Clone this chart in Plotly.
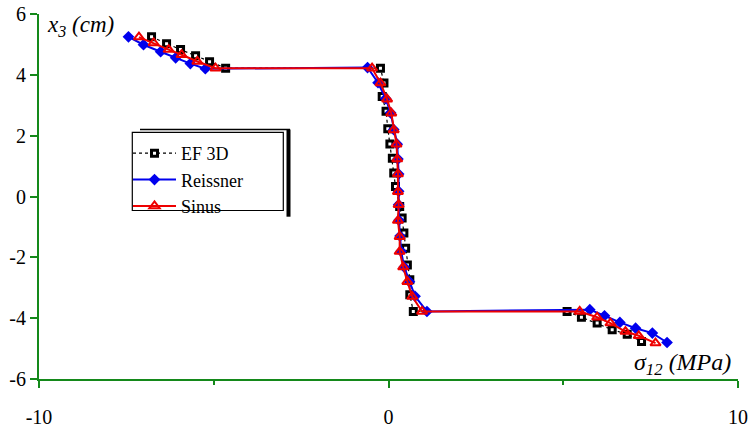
import plotly.graph_objects as go

# ---- data ----
ef3d_x = [-6.78, -6.35, -5.95, -5.52, -5.12, -4.66,
          -0.23, -0.13, -0.18, -0.07, -0.02, 0.04, 0.11, 0.15, 0.20, 0.32, 0.39,
          0.44, 0.49, 0.54, 0.61, 0.61, 0.71,
          5.11, 5.52, 5.97, 6.40, 6.83, 7.24]
ef3d_y = [5.25, 5.02, 4.83, 4.63, 4.43, 4.22,
          4.22, 3.73, 3.29, 2.80, 2.23, 1.73, 1.26, 0.77, 0.33, -0.33, -0.71,
          -1.20, -1.70, -2.25, -2.74, -3.23, -3.78,
          -3.78, -3.97, -4.16, -4.38, -4.53, -4.77]

reissner_x = [-7.44, -7.01, -6.52, -6.09, -5.67, -5.24,
              -0.60, -0.30, -0.08, 0.06, 0.15, 0.25, 0.27, 0.29, 0.29, 0.29, 0.30,
              0.33, 0.36, 0.45, 0.60, 0.76, 1.10,
              5.76, 6.18, 6.62, 7.07, 7.55, 7.97]
reissner_y = [5.25, 4.99, 4.76, 4.56, 4.37, 4.20,
              4.24, 3.74, 3.22, 2.75, 2.20, 1.72, 1.23, 0.74, 0.17, -0.27, -0.78,
              -1.30, -1.80, -2.32, -2.80, -3.28, -3.78,
              -3.72, -3.92, -4.14, -4.33, -4.49, -4.80]

sinus_x = [-7.14, -6.72, -6.29, -5.92, -5.47, -4.95,
           -0.47, -0.23, -0.04, 0.08, 0.15, 0.23, 0.25, 0.27, 0.27, 0.29, 0.27,
           0.32, 0.32, 0.42, 0.54, 0.68, 0.96,
           5.47, 5.97, 6.35, 6.78, 7.16, 7.64]
sinus_y = [5.24, 5.05, 4.83, 4.66, 4.44, 4.22,
           4.22, 3.73, 3.20, 2.74, 2.19, 1.72, 1.23, 0.74, 0.16, -0.27, -0.79,
           -1.32, -1.81, -2.32, -2.80, -3.29, -3.78,
           -3.78, -3.97, -4.16, -4.44, -4.58, -4.82]

x_tickvals = [-10, 0, 10]
x_ticktext = ["-10", "0", "10"]
y_tickvals = [-6, -4, -2, 0, 2, 4, 6]
y_ticktext = ["-6", "-4", "-2", "0", "2", "4", "6"]

series_names = ["EF 3D", "Reissner", "Sinus"]

GREEN = "#14891a"
SERIF = "Liberation Serif"

fig = go.Figure()
fig.add_trace(go.Scatter(
    x=ef3d_x, y=ef3d_y, name=series_names[0], mode="lines+markers",
    line=dict(color="black", width=1.2, dash="dot"),
    marker=dict(symbol="square", size=6, color="white",
                line=dict(color="black", width=3)),
))
fig.add_trace(go.Scatter(
    x=reissner_x, y=reissner_y, name=series_names[1], mode="lines+markers",
    line=dict(color="#0000ee", width=2),
    marker=dict(symbol="diamond", size=9, color="#0000ee",
                line=dict(color="#0000ee", width=0)),
))
fig.add_trace(go.Scatter(
    x=sinus_x, y=sinus_y, name=series_names[2], mode="lines+markers",
    line=dict(color="#ee0000", width=2),
    marker=dict(symbol="triangle-up-open", size=9, color="#ee0000",
                line=dict(color="#ee0000", width=2)),
))

L, R, T, B = 39, 13, 14, 51
W, H = 751, 430
pw, ph = W - L - R, H - T - B


def px(xp):
    return (xp - L) / pw


def py(yp):
    return (H - B - yp) / ph


fig.update_layout(
    width=W, height=H,
    margin=dict(l=L, r=R, t=T, b=B, pad=0, autoexpand=False),
    paper_bgcolor="white", plot_bgcolor="white",
    font=dict(family=SERIF, size=20, color="black"),
    showlegend=True,
    legend=dict(
        x=px(128), y=py(135), xanchor="left", yanchor="top",
        bgcolor="rgba(0,0,0,0)", borderwidth=0,
        font=dict(family=SERIF, size=18, color="black"),
        itemwidth=43, traceorder="normal",
    ),
    xaxis=dict(
        range=[-10, 10], showgrid=False, zeroline=False, automargin=False,
        showline=True, linecolor=GREEN, linewidth=2,
        ticks="outside", ticklen=7, tickwidth=2, tickcolor=GREEN,
        tickvals=x_tickvals, ticktext=x_ticktext,
        ticklabelstandoff=12,
        tickfont=dict(family=SERIF, size=20, color="black"),
        minor=dict(dtick=5, tick0=0, ticks="outside", ticklen=4,
                   tickwidth=2, tickcolor=GREEN, showgrid=False),
    ),
    yaxis=dict(
        range=[-6, 6], showgrid=False, zeroline=False, automargin=False,
        showline=True, linecolor=GREEN, linewidth=2,
        ticks="outside", ticklen=7, tickwidth=2, tickcolor=GREEN,
        tickvals=y_tickvals, ticktext=y_ticktext,
        tickfont=dict(family=SERIF, size=20, color="black"),
    ),
    shapes=[
        # legend box
        dict(type="rect", xref="paper", yref="paper",
             x0=px(132.3), x1=px(283.3), y0=py(210.5), y1=py(132.3),
             line=dict(color="black", width=1.2), fillcolor="rgba(0,0,0,0)"),
        # legend shadow (right)
        dict(type="line", xref="paper", yref="paper",
             x0=px(288.5), x1=px(288.5), y0=py(216.7), y1=py(129.5),
             line=dict(color="black", width=4)),
        # legend shadow (top)
        dict(type="line", xref="paper", yref="paper",
             x0=px(140), x1=px(290), y0=py(129.5), y1=py(129.5),
             line=dict(color="black", width=1.5)),
    ],
    annotations=[
        dict(text="<i>x<sub>3</sub> (cm)</i>", xref="paper", yref="paper",
             x=px(45), y=py(26), xanchor="left", yanchor="middle",
             showarrow=False, font=dict(family=SERIF, size=23, color="black")),
        dict(text="<i>σ<sub>12</sub> (MPa)</i>", xref="paper", yref="paper",
             x=px(733), y=py(364), xanchor="right", yanchor="middle",
             showarrow=False, font=dict(family=SERIF, size=24, color="black")),
    ],
)

fig.write_html("out.html")
